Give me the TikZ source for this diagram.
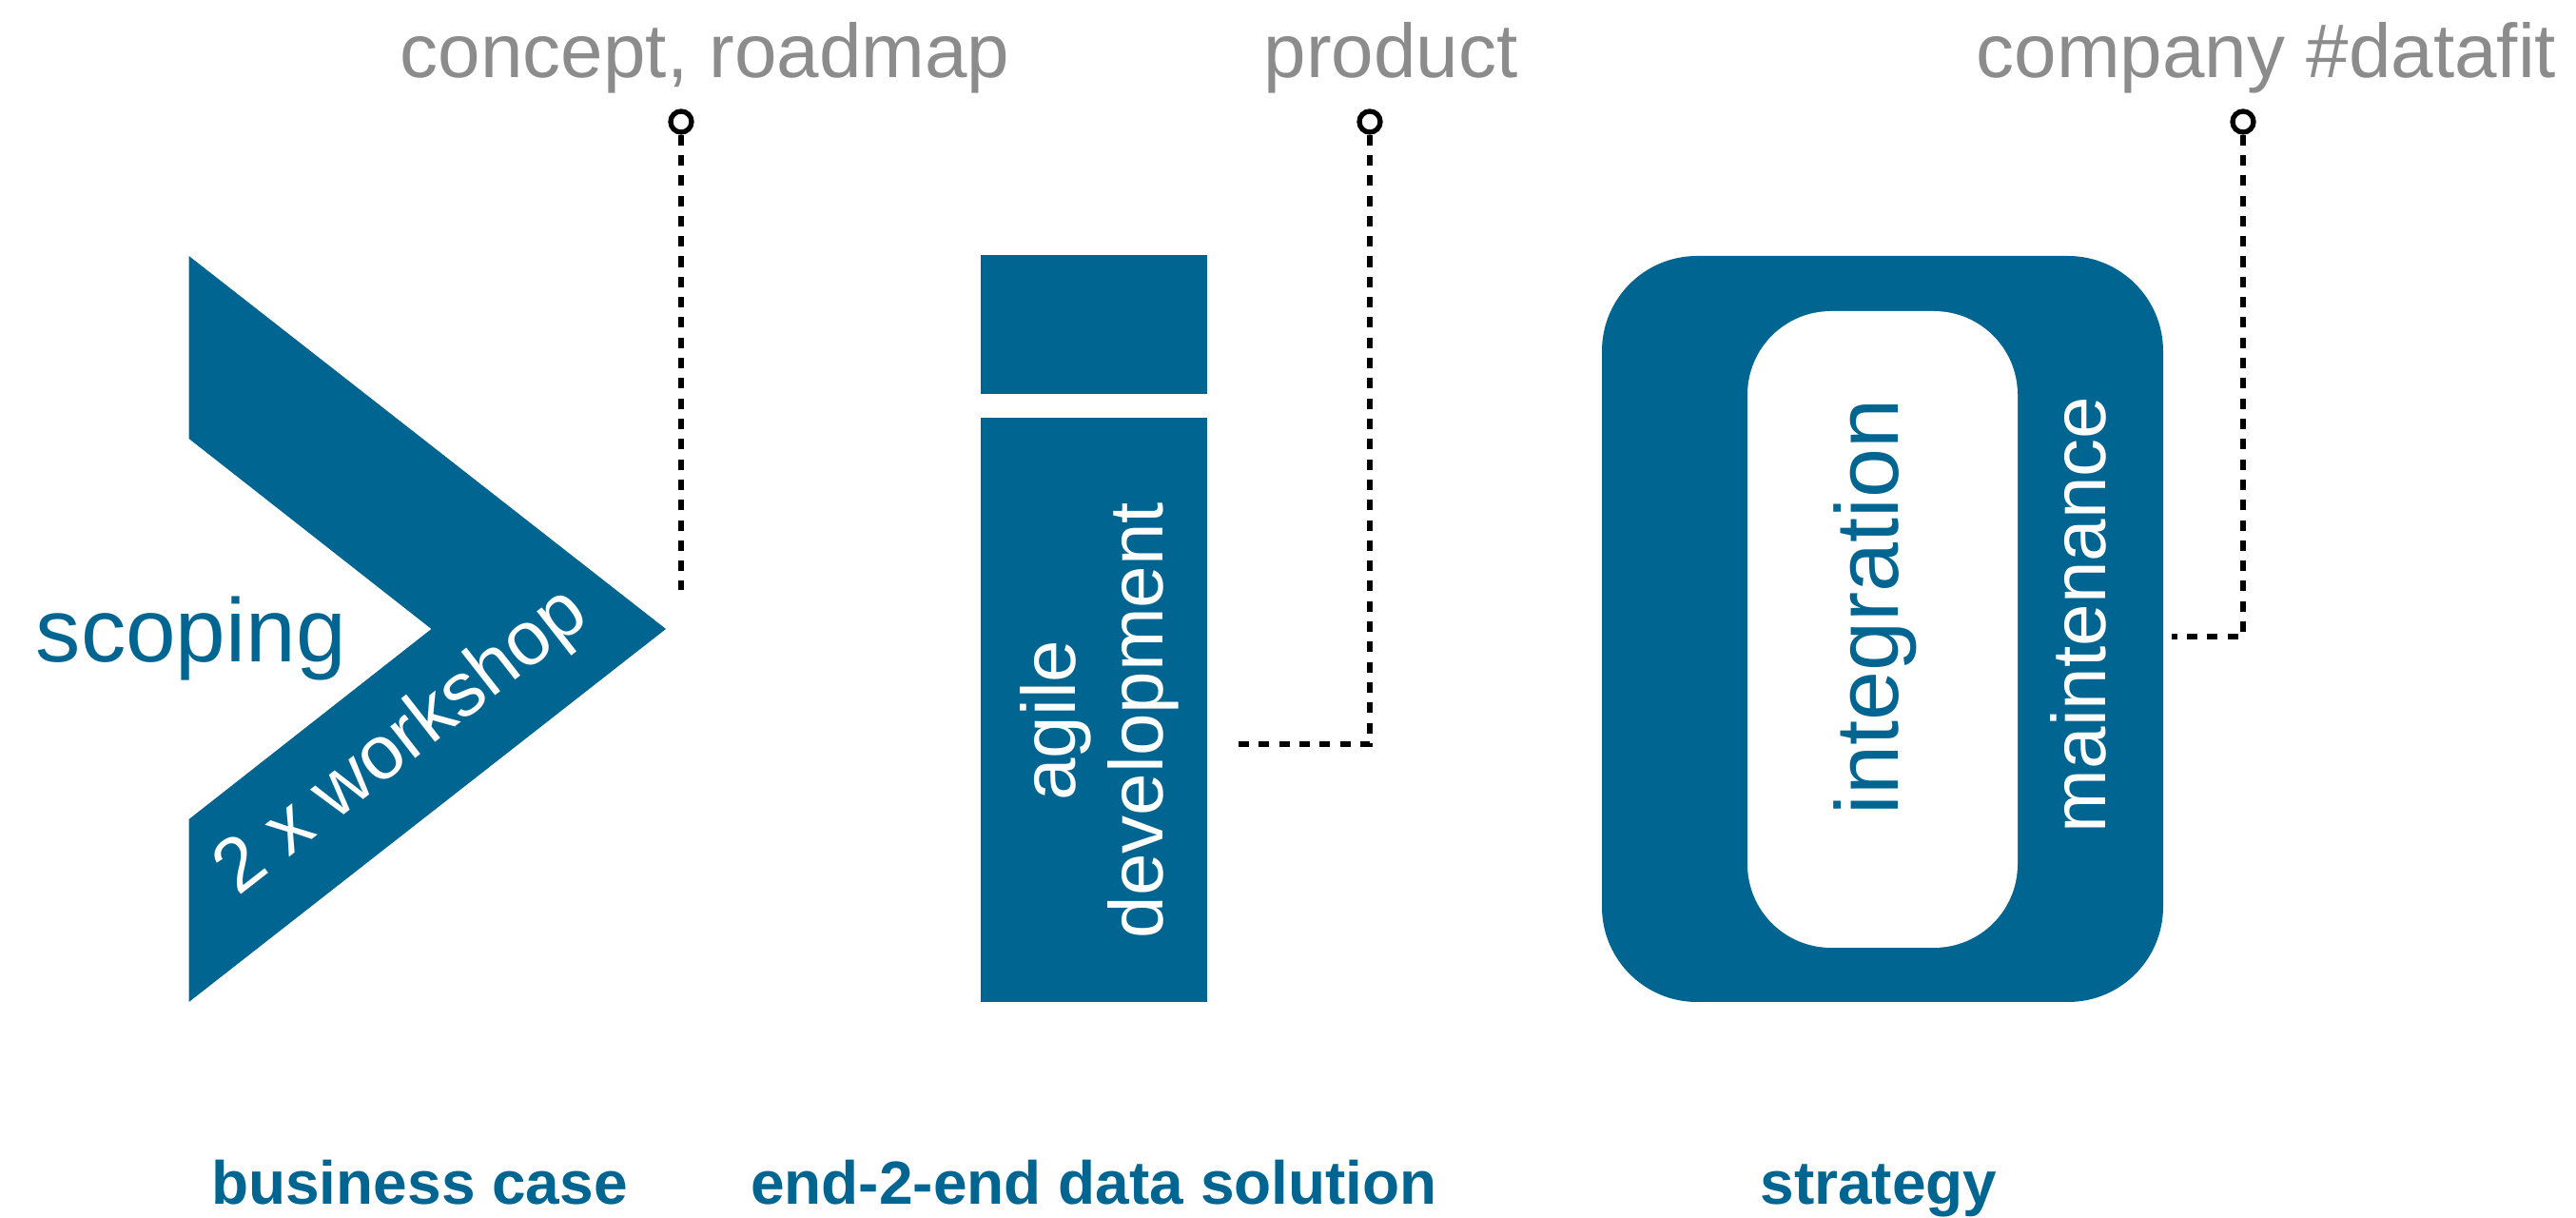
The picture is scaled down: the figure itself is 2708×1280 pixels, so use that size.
\documentclass[tikz,border=0pt]{standalone}
\usepackage{fontspec}
\setmainfont{Liberation Sans}
\definecolor{dfblue}{RGB}{0,101,144}
\definecolor{dfgray}{RGB}{140,140,140}
\newcommand\fsTop{\fontsize{22.76pt}{26pt}\selectfont}
\newcommand\fsBig{\fontsize{26.9pt}{30pt}\selectfont}
\newcommand\fsInt{\fontsize{26.6pt}{30pt}\selectfont}
\newcommand\fsBot{\fontsize{18.2pt}{22pt}\selectfont\bfseries}
\begin{document}
\begin{tikzpicture}[x=0.01cm,y=-0.01cm,
  toplbl/.style={text=dfgray,font=\fsTop,anchor=base west,inner sep=0pt},
  botlbl/.style={text=dfblue,font=\fsBot,anchor=base,inner sep=0pt},
  pinball/.style={circle,draw=black,fill=white,line width=1.5pt,minimum size=0.22cm,inner sep=0pt},
  dotln/.style={draw=black,line width=1.56pt,dash pattern=on 3.13pt off 2.93pt},
  intext/.style={inner sep=0pt}]
\useasboundingbox (0,0) rectangle (2708,1280);
% chevron
\fill[dfblue] (198.6,269) -- (700,661) -- (198.6,1053) -- (198.6,861) -- (453.5,661) -- (198.6,461) -- cycle;
% i shape
\fill[dfblue] (1031,268) rectangle (1269,414);
\fill[dfblue] (1031,439) rectangle (1269,1053);
% o shape
\fill[dfblue,rounded corners=1cm] (1684,269) rectangle (2274,1053);
\fill[white,rounded corners=0.88cm] (1837,327) rectangle (2121,996);
% texts
\node[intext,text=dfblue,font=\fsBig,anchor=base west] (scoping) at (37,696) {scoping};
\node[intext,text=white,font=\fsTop,rotate=38,anchor=base west] (workshop) at (250,943) {2 x workshop};
\node[intext,text=white,font=\fsTop,rotate=90,align=center] (agile) at (1156,757)
  {\fontsize{22.76pt}{25.3pt}\selectfont agile\\development};
\node[intext,text=dfblue,font=\fsInt,rotate=90,anchor=base] (integ) at (1995,638) {integration};
\node[intext,text=white,font=\fsTop,rotate=90,anchor=base] (maint) at (2213,646) {maintenance};
% top labels
\node[toplbl] (l1) at (420,82) {concept, roadmap};
\node[toplbl] (l2) at (1328,82) {product};
\node[toplbl] (l3) at (2077,82) {company \#datafit};
% bottom labels
\node[botlbl] (b1) at (441,1266) {business case};
\node[botlbl] (b2) at (1150,1266) {end-2-end data solution};
\node[botlbl] (b3) at (1975,1266) {strategy};
% pins and dotted connectors
\node[pinball] (c1) at (716,128) {};
\node[pinball] (c2) at (1440,128) {};
\node[pinball] (c3) at (2358,128) {};
\coordinate (e1) at (716,620);
\coordinate (e2) at (1293,782);
\coordinate (e3) at (2283,669);
\draw[dotln] (c1) -- (e1);
\draw[dotln] (c2) |- (e2);
\draw[dotln] (c3) |- (e3);
\end{tikzpicture}
\end{document}
